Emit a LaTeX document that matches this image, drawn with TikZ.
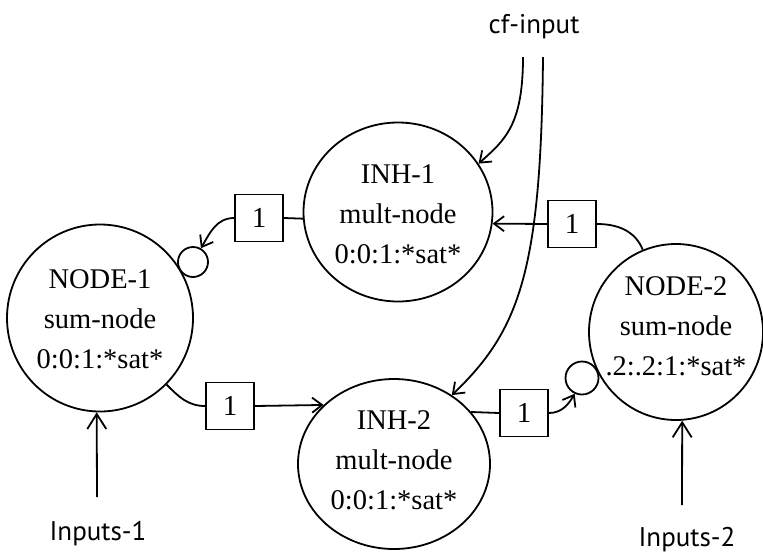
\documentclass[tikz,border=0pt]{standalone}
\usepackage{fontspec}
\setmainfont{Liberation Serif}
\newfontfamily\labelfont{PT Sans}
\usetikzlibrary{shapes.geometric,arrows.meta}
\begin{document}
\begin{tikzpicture}[x=1pt,y=-1pt,line width=1.8pt,
  unit/.style={ellipse,draw,inner sep=0pt},
  utext/.style={align=center,inner sep=0pt,font=\fontsize{28.5}{40}\selectfont},
  wbox/.style={draw,minimum width=48pt,minimum height=47pt,inner sep=0pt,font=\fontsize{29}{34}\selectfont},
  dot/.style={circle,draw,inner sep=0pt},
  lbl/.style={font=\labelfont\fontsize{27}{30}\selectfont,anchor=base,inner sep=0pt},
  arr/.style={-{Straight Barb[length=10pt,width=15pt]}},
  bigarr/.style={-{Straight Barb[length=15pt,width=19pt]}}
]
\useasboundingbox (0,0) rectangle (763,555);

% main units
\node[unit,minimum width=186pt,minimum height=187pt] (n1) at (100,318) {};
\node[unit,minimum width=189pt,minimum height=179pt] (inh1) at (398,212) {};
\node[unit,minimum width=192pt,minimum height=170pt] (inh2) at (394,464) {};
\node[unit,minimum width=174pt,minimum height=176pt] (n2) at (676,332) {};

\node[utext] (t1) at (100,319) {NODE-1\\sum-node\\0:0:1:*sat*};
\node[utext] (t2) at (398,214) {INH-1\\mult-node\\0:0:1:*sat*};
\node[utext] (t3) at (394,460) {INH-2\\mult-node\\0:0:1:*sat*};
\node[utext] (t4) at (676,326) {NODE-2\\sum-node\\.2:.2:1:*sat*};

% inhibitory sites
\node[dot,minimum size=30pt] (s1) at (193,262) {};
\node[dot,minimum size=33pt] (s2) at (582,378) {};

% weight boxes
\node[wbox] (bA) at (259,218) {1};
\node[wbox] (bB) at (572,224) {1};
\node[wbox] (bC) at (230,406) {1};
\node[wbox] (bD) at (524,413) {1};

% free ends and labels
\coordinate (cf1) at (523,57);
\coordinate (cf2) at (543,57);
\coordinate (in1) at (97,497);
\coordinate (in2) at (682,505);
\node[lbl] (cf) at (534,33) {cf-input};
\node[lbl] (L1) at (98,540) {Inputs-1};
\node[lbl] (L2) at (687,546) {Inputs-2};

% connectors
\draw (bA.east) -- (inh1.184);
\draw[arr] (bA.west) to[out=180,in=60] (s1.60);
\draw[arr] (bB.west) -- (inh1.-7);
\draw (n2.112) to[out=112,in=0] (bB.east);
\draw (n1.-45) to[out=-45,in=180] (bC.west);
\draw[arr] (bC.east) -- (inh2.140);
\draw (inh2.34) -- (bD.west);
\draw[arr] (bD.east) to[out=0,in=-120] (s2.-115);
\draw[arr] (cf1) .. controls (523,125) and (505,140) .. (inh1.31);
\draw[arr] (cf2) .. controls (541,270) and (520,330) .. (inh2.50);
\draw[bigarr] (in1) -- (n1.-92);
\draw[bigarr] (in2) -- (n2.-86);
\end{tikzpicture}
\end{document}
